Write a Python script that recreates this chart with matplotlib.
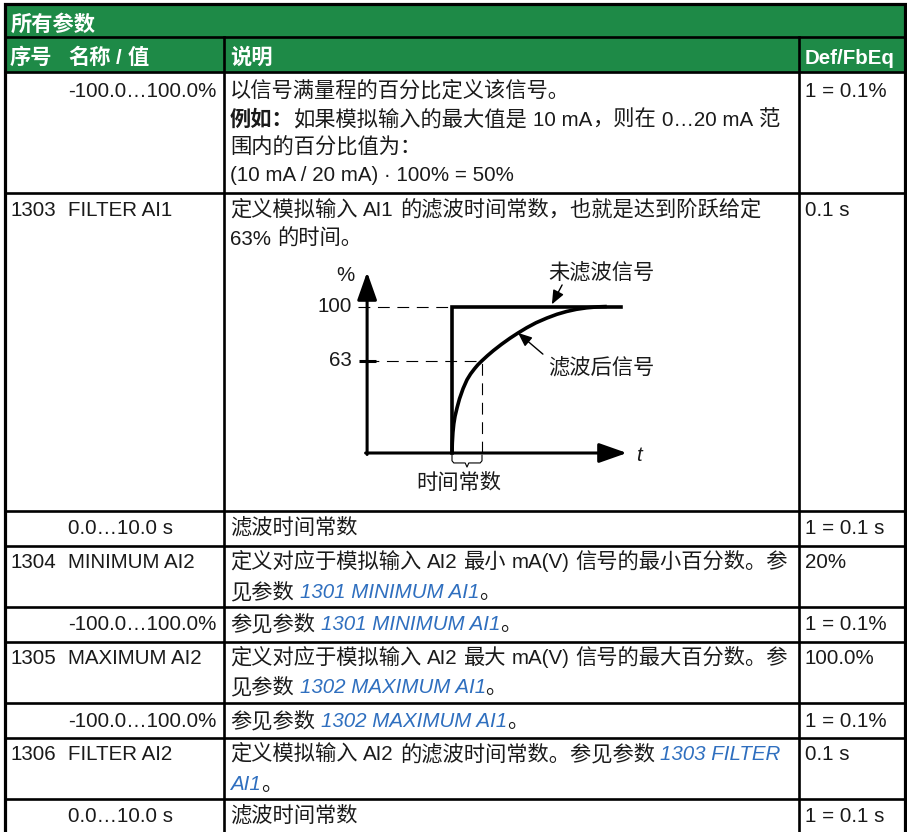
import matplotlib
matplotlib.use('Agg')
import matplotlib.pyplot as plt
from matplotlib.patches import Rectangle

plt.rcParams['lines.scale_dashes'] = False

W, H = 907, 832
GREEN = '#1e8a47'
BLUE = '#2f6fbf'
INK = '#1a1a1a'
LATIN = 'Liberation Sans'
CJK = 'Noto Sans CJK SC'
FS = 14.8
FS_CJK = 15.3

# ---- table content ----
title = '所有参数'
headers = ['序号', '名称 / 值', '说明', 'Def/FbEq']
codes = ['', '1303', '', '1304', '', '1305', '', '1306', '']
names = ['-100.0…100.0%', 'FILTER AI1', '0.0…10.0 s', 'MINIMUM AI2', '-100.0…100.0%',
         'MAXIMUM AI2', '-100.0…100.0%', 'FILTER AI2', '0.0…10.0 s']
defaults = ['1 = 0.1%', '0.1 s', '1 = 0.1 s', '20%', '1 = 0.1%', '100.0%', '1 = 0.1%',
            '0.1 s', '1 = 0.1 s']
# one list of lines per row, each line a list of (text, style); n normal, b bold, l link
descriptions = [
    [[('以信号满量程的百分比定义该信号。', 'n')],
     [('例如：', 'b'), ('如果模拟输入的最大值是 10 mA，则在 0…20 mA 范', 'n')],
     [('围内的百分比值为：', 'n')],
     [('(10 mA / 20 mA) · 100% = 50%', 'n')]],
    [[('定义模拟输入 AI1 的滤波时间常数，也就是达到阶跃给定', 'n')],
     [('63% 的时间。', 'n')]],
    [[('滤波时间常数', 'n')]],
    [[('定义对应于模拟输入 AI2 最小 mA(V) 信号的最小百分数。参', 'n')],
     [('见参数 ', 'n'), ('1301 MINIMUM AI1', 'l'), ('。', 'n')]],
    [[('参见参数 ', 'n'), ('1301 MINIMUM AI1', 'l'), ('。', 'n')]],
    [[('定义对应于模拟输入 AI2 最大 mA(V) 信号的最大百分数。参', 'n')],
     [('见参数 ', 'n'), ('1302 MAXIMUM AI1', 'l'), ('。', 'n')]],
    [[('参见参数 ', 'n'), ('1302 MAXIMUM AI1', 'l'), ('。', 'n')]],
    [[('定义模拟输入 AI2 的滤波时间常数。参见参数 ', 'n'), ('1303 FILTER', 'l')],
     [('AI1', 'l'), ('。', 'n')]],
    [[('滤波时间常数', 'n')]],
]

# ---- step response diagram (time in time constants, signal in %) ----
curve_t = [0, 0.01, 0.03, 0.06, 0.1, 0.17, 0.25, 0.37, 0.5, 0.62, 0.75, 0.87, 1.0,
           1.18, 1.38, 1.65, 1.93, 2.2, 2.49, 2.8, 3.16, 3.5, 3.82, 4.15, 4.49, 4.85, 5.16]
curve_pct = [0, 7, 14, 20, 25, 31, 37, 44, 50, 54, 57.5, 60.4, 63.0,
             66.4, 69.9, 74.2, 78.3, 81.9, 85.5, 88.9, 92.1, 94.7, 96.6, 98.1, 99.1, 99.75, 100]
step_t = [0, 0, 5.63]
step_pct = [0, 100, 100]
level_ticks = [100, 63]
tau = 1.0

# ---- layout (pixels) ----
row_edges = [72, 193, 511, 546, 607, 642, 703, 738, 799, 832]
row_lines = [[97, 126, 154, 181], [216, 245], [534], [568, 598], [630],
             [664, 693], [727], [760, 790], [822]]
x_left, x_right = 5, 905
col1, col2 = 224, 799

fig = plt.figure(figsize=(W / 100, H / 100), dpi=100)
ax = fig.add_axes([0, 0, 1, 1])
ax.set_xlim(0, W)
ax.set_ylim(H, 0)
ax.axis('off')
renderer = fig.canvas.get_renderer()


def style_kw(st):
    if st == 'b':
        return dict(fontweight='bold', color=INK)
    if st == 'l':
        return dict(fontstyle='italic', color=BLUE)
    if st == 'h':
        return dict(fontweight='bold', color='white')
    return dict(color=INK)


def is_cjk(ch):
    return ord(ch) >= 0x2E80


def runs(txt):
    out = []
    for ch in txt:
        c = is_cjk(ch)
        if out and out[-1][1] == c:
            out[-1][0] += ch
        else:
            out.append([ch, c])
    return out


def space_w(kw):
    a = ax.text(0, 0, 'x x', fontsize=FS, family=LATIN, **kw)
    b = ax.text(0, 0, 'xx', fontsize=FS, family=LATIN, **kw)
    w = a.get_window_extent(renderer).width - b.get_window_extent(renderer).width
    a.remove()
    b.remove()
    return w


def put_line(x, y, segments):
    for txt, st in segments:
        kw = style_kw(st)
        sw = space_w(kw)
        for part, cjk in runs(txt):
            core = part.strip(' ')
            if not core:
                x += len(part) * sw
                continue
            lead = len(part) - len(part.lstrip(' '))
            trail = len(part) - len(part.rstrip(' '))
            x += lead * sw
            t = ax.text(x, y, core, fontsize=FS_CJK if cjk else FS,
                        family=CJK if cjk else LATIN, va='baseline', ha='left', **kw)
            x += t.get_window_extent(renderer).width
            x += trail * sw


# header bands
ax.add_patch(Rectangle((x_left, 4), x_right - x_left, 68, color=GREEN, zorder=0))
put_line(11, 31, [(title, 'h')])
put_line(10, 64, [(headers[0], 'h')])
put_line(68, 64, [(headers[1], 'h')])
put_line(230, 64, [(headers[2], 'h')])
put_line(805, 64, [(headers[3], 'h')])

# rows
for i in range(len(names)):
    lines = row_lines[i]
    if codes[i]:
        put_line(10, lines[0], [(codes[i], 'n')])
    put_line(68, lines[0], [(names[i], 'n')])
    put_line(805, lines[0], [(defaults[i], 'n')])
    for j, segs in enumerate(descriptions[i]):
        put_line(230, lines[j], segs)

# grid lines
lw = 1.9
ax.plot([x_left, x_right], [37, 37], color='black', lw=lw)
for y in row_edges[:-1]:
    ax.plot([x_left, x_right], [y, y], color='black', lw=lw)
for x in (col1, col2):
    ax.plot([x, x], [37, H], color='black', lw=lw)
ax.plot([x_left, x_left, x_right, x_right], [H, 4, 4, H], color='black', lw=2.3,
        solid_joinstyle='miter')

# ---- diagram in its own axes: x px = 452 + 30 t, y px = 453 - 1.465 p ----
t0, t1 = -3.5, 7.0
p0, p1 = -30, 135
px_l, px_r = 452 + 30 * t0, 452 + 30 * t1
py_b, py_t = 453 - 1.465 * p0, 453 - 1.465 * p1
dax = fig.add_axes([px_l / W, 1 - py_b / H, (px_r - px_l) / W, (py_b - py_t) / H])
dax.set_xlim(t0, t1)
dax.set_ylim(p0, p1)
dax.axis('off')
dax.patch.set_alpha(0)

axis_t = -2.83
dash = (0, (8.5, 5.5))
dax.plot([-3.13, 0], [100, 100], color='black', lw=0.8, ls=dash)
dax.plot([axis_t, tau], [63, 63], color='black', lw=0.8, ls=dash)
dax.plot([tau, tau], [0, 63], color='black', lw=0.8, ls=dash)
dax.plot([-3.1, -2.53], [63, 63], color='black', lw=2.2, solid_capstyle='butt')

arrow_kw = dict(arrowstyle='-|>,head_length=0.85,head_width=0.3', color='black',
                lw=2.2, shrinkA=0, shrinkB=0, mutation_scale=20)
dax.annotate('', xy=(axis_t, 123.5), xytext=(axis_t, -1.0), arrowprops=arrow_kw)
dax.annotate('', xy=(5.83, 0), xytext=(axis_t - 0.05, 0), arrowprops=arrow_kw)

dax.plot(step_t, step_pct, color='black', lw=2.6, solid_joinstyle='miter')
dax.plot(curve_t, curve_pct, color='black', lw=2.6, solid_capstyle='butt',
         solid_joinstyle='round')

for lv in level_ticks:
    dax.text(-3.33, lv, str(lv), fontsize=FS, family=LATIN, color=INK, ha='right', va='center')
dax.text(-3.57, 121, '%', fontsize=FS, family=LATIN, color=INK, ha='center', va='center')
dax.text(6.23, -1.4, 't', fontsize=FS, family=LATIN, color=INK, ha='center', va='center',
         style='italic')

small_arrow = dict(arrowstyle='-|>,head_length=0.6,head_width=0.25', color='black',
                   lw=1.0, shrinkA=0, shrinkB=0, mutation_scale=14)
dax.text(3.2, 123, '未滤波信号', fontsize=FS_CJK, family=CJK, color=INK, ha='left', va='center')
dax.annotate('', xy=(3.33, 101.5), xytext=(3.67, 114.7), arrowprops=small_arrow)
dax.text(3.2, 58.7, '滤波后信号', fontsize=FS_CJK, family=CJK, color=INK, ha='left', va='center')
dax.annotate('', xy=(2.2, 82.0), xytext=(3.03, 67.5), arrowprops=small_arrow)

# brace marking one time constant
brace_t = [0, 0, 0.06, 0.44, 0.5, 0.56, 0.94, 1.0, 1.0]
brace_p = [-1.5, -5.3, -6.8, -6.8, -9.6, -6.8, -6.8, -5.3, -1.5]
dax.plot([b * tau for b in brace_t], brace_p, color='black', lw=0.8)
dax.text(0.22, -20.5, '时间常数', fontsize=FS_CJK, family=CJK, color=INK, ha='center',
         va='center')

fig.savefig('out.png', dpi=100)
